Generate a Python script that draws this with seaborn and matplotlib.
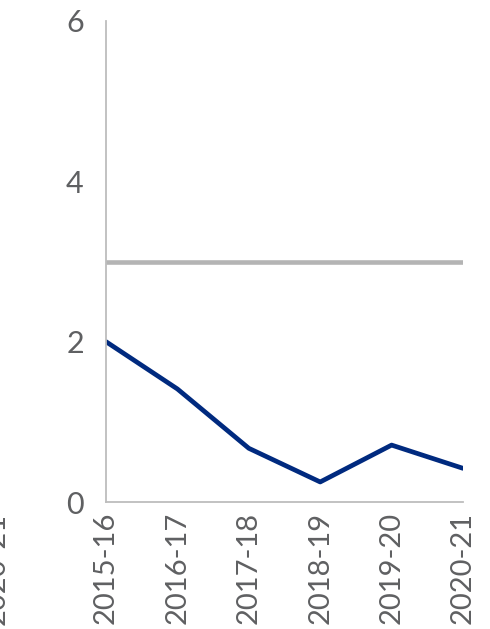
import numpy as np
import pandas as pd
import matplotlib
matplotlib.use("Agg")
import matplotlib.pyplot as plt
import seaborn as sns

# data
years = ['2015-16', '2016-17', '2017-18', '2018-19', '2019-20', '2020-21']
actual = [2.0, 1.41, 0.67, 0.25, 0.71, 0.42]
target = [3.0, 3.0, 3.0, 3.0, 3.0, 3.0]
clipped_label = '2020-21'

sns.set_style('white')
plt.rcParams['font.family'] = ['Lato', 'DejaVu Sans']

df = pd.DataFrame({'year': years, 'actual': actual, 'target': target})
df['pos'] = np.arange(len(years))

fig = plt.figure(figsize=(4.9, 6.29), dpi=100)
ax = fig.add_axes([106 / 490, 127 / 629, 357 / 490, 481 / 629])

sns.lineplot(data=df, x='pos', y='target', color='#B4B4B4', linewidth=3.3,
             solid_capstyle='round', ax=ax)
sns.lineplot(data=df, x='pos', y='actual', color='#002A7F', linewidth=3.4,
             solid_capstyle='round', ax=ax)

ax.set_xlim(0, len(years) - 1)
ax.set_ylim(0, 6)
ax.set_yticks([0, 2, 4, 6])
ax.set_xticks(df['pos'])
ax.set_xticklabels(years, rotation=90)
ax.set_xlabel('')
ax.set_ylabel('')
ax.tick_params(axis='y', length=0, pad=16, labelsize=22, labelcolor='#5F6062')
ax.tick_params(axis='x', length=0, pad=7, labelsize=21, labelcolor='#5F6062')

for side in ['top', 'right']:
    ax.spines[side].set_visible(False)
for side in ['left', 'bottom']:
    ax.spines[side].set_color('#BDBDBD')
    ax.spines[side].set_linewidth(1.3)

# leftover label clipped at the left edge
fig.text(-3 / 490, 1 - 513 / 629, clipped_label, rotation=90, ha='center', va='top',
         fontsize=21, color='#5F6062')

fig.savefig('out.png', dpi=100)
